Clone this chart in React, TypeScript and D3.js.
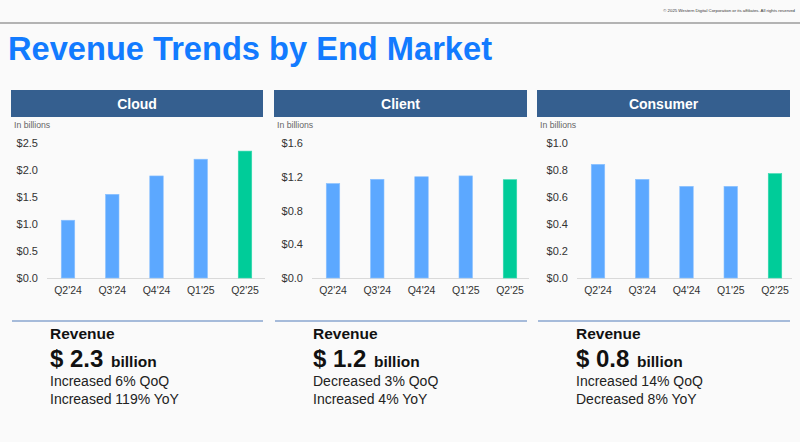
import React from "react";
import * as d3 from "d3";

const quarters = ["Q2'24", "Q3'24", "Q4'24", "Q1'25", "Q2'25"];
const cloudValues = [1.07, 1.55, 1.89, 2.2, 2.35];
const clientValues = [1.12, 1.17, 1.2, 1.21, 1.165];
const consumerValues = [0.842, 0.731, 0.679, 0.679, 0.773];
const cloudTicks = [0, 0.5, 1.0, 1.5, 2.0, 2.5];
const clientTicks = [0, 0.4, 0.8, 1.2, 1.6];
const consumerTicks = [0, 0.2, 0.4, 0.6, 0.8, 1.0];
const segmentNames = ["Cloud", "Client", "Consumer"];
const revenueValues = ["2.3", "1.2", "0.8"];
const qoqTexts = ["Increased 6% QoQ", "Decreased 3% QoQ", "Increased 14% QoQ"];
const yoyTexts = ["Increased 119% YoY", "Increased 4% YoY", "Decreased 8% YoY"];

const W = 800;
const H = 442;
const FONT = "Liberation Sans, Arial, Helvetica, sans-serif";
const BLUE = "#5CA8FF";
const GREEN = "#00CC99";
const HEADER = "#355F8F";

type PanelSpec = {
  name: string;
  values: number[];
  ticks: number[];
  max: number;
  left: number;
  right: number;
  tickRight: number;
  axisLeft: number;
  barCenters: [number, number];
  textX: number;
  revenue: string;
  qoq: string;
  yoy: string;
};

const panels: PanelSpec[] = [
  {
    name: segmentNames[0], values: cloudValues, ticks: cloudTicks, max: 2.5,
    left: 11, right: 263, tickRight: 38, axisLeft: 47, barCenters: [68, 245],
    textX: 50, revenue: revenueValues[0], qoq: qoqTexts[0], yoy: yoyTexts[0],
  },
  {
    name: segmentNames[1], values: clientValues, ticks: clientTicks, max: 1.6,
    left: 274, right: 527, tickRight: 303, axisLeft: 312, barCenters: [333, 510],
    textX: 313, revenue: revenueValues[1], qoq: qoqTexts[1], yoy: yoyTexts[1],
  },
  {
    name: segmentNames[2], values: consumerValues, ticks: consumerTicks, max: 1.0,
    left: 537, right: 790, tickRight: 568, axisLeft: 577, barCenters: [598, 775],
    textX: 576, revenue: revenueValues[2], qoq: qoqTexts[2], yoy: yoyTexts[2],
  },
];

const Y_BASE = 278;
const Y_TOP = 143;
const BAR_W = 13.5;

function Panel({ p }: { p: PanelSpec }) {
  const y = d3.scaleLinear().domain([0, p.max]).range([Y_BASE, Y_TOP]);
  const x = d3.scalePoint<string>().domain(quarters).range(p.barCenters);
  const fmt = (v: number) => "$" + d3.format(".1f")(v);
  return (
    <g>
      <rect x={p.left} y={90} width={p.right - p.left} height={27} fill={HEADER} />
      <text
        x={(p.left + p.right) / 2}
        y={108.5}
        textAnchor="middle"
        fill="#fff"
        fontSize={14}
        fontWeight="bold"
        fontFamily={FONT}
      >
        {p.name}
      </text>
      <text x={p.left + 3} y={128} fontSize={8.7} fill="#666" fontFamily={FONT}>
        In billions
      </text>
      {p.ticks.map((t) => (
        <text
          key={t}
          x={p.tickRight}
          y={y(t) + 4}
          textAnchor="end"
          fontSize={11}
          fill="#333"
          fontFamily={FONT}
        >
          {fmt(t)}
        </text>
      ))}
      <line
        x1={p.axisLeft}
        x2={p.right + 2}
        y1={Y_BASE + 0.5}
        y2={Y_BASE + 0.5}
        stroke="#d9d9d9"
        strokeWidth={1}
      />
      {quarters.map((q, i) => {
        const cx = x(q) as number;
        const v = p.values[i];
        const last = i === quarters.length - 1;
        return (
          <g key={q}>
            <rect
              x={cx - BAR_W / 2}
              y={y(v)}
              width={BAR_W}
              height={Y_BASE - y(v)}
              fill={last ? GREEN : BLUE}
              stroke={last ? "#33d9ad" : "#8cc2ff"}
              strokeWidth={0.6}
            />
            <text
              x={cx}
              y={293.5}
              textAnchor="middle"
              fontSize={10.5}
              fill="#333"
              fontFamily={FONT}
            >
              {q}
            </text>
          </g>
        );
      })}
      <line
        x1={p.left + 1}
        x2={p.right}
        y1={321}
        y2={321}
        stroke="#8aa6cf"
        strokeWidth={1.5}
      />
      <text x={p.textX} y={339} fontSize={15.5} fontWeight="bold" fill="#111" fontFamily={FONT}>
        Revenue
      </text>
      <text x={p.textX} y={367} fill="#111" fontFamily={FONT} fontWeight="bold" fontSize={24}>
        {"$ " + p.revenue}
      </text>
      <text x={p.textX + 61} y={367} fill="#111" fontFamily={FONT} fontWeight="bold" fontSize={15.5}>
        billion
      </text>
      <text x={p.textX} y={386} fontSize={14} fill="#222" fontFamily={FONT}>
        {p.qoq}
      </text>
      <text x={p.textX} y={403.5} fontSize={14} fill="#222" fontFamily={FONT}>
        {p.yoy}
      </text>
    </g>
  );
}

export default function App() {
  return (
    <svg
      width={W}
      height={H}
      style={{ position: "absolute", left: 0, top: 0, display: "block" }}
    >
      <rect width={W} height={H} fill="#FAFAFA" />
      <text
        x={795}
        y={11.5}
        textAnchor="end"
        fontSize={4.3}
        fill="#333"
        fontFamily={FONT}
      >
        © 2025 Western Digital Corporation or its affiliates. All rights reserved
      </text>
      <line x1={0} x2={W} y1={23} y2={23} stroke="#b3b3b3" strokeWidth={2} />
      <text
        x={8}
        y={59.5}
        fontSize={33}
        fontWeight="bold"
        fill="#127BFF"
        fontFamily={FONT}
        textLength={484}
        lengthAdjust="spacingAndGlyphs"
      >
        Revenue Trends by End Market
      </text>
      {panels.map((p) => (
        <Panel key={p.name} p={p} />
      ))}
    </svg>
  );
}
